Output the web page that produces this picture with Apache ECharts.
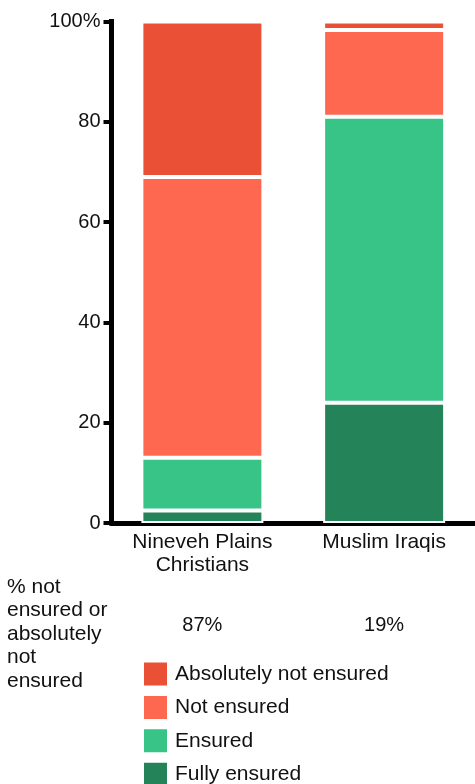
<!DOCTYPE html>
<html>
<head>
<meta charset="utf-8">
<script src="https://cdn.jsdelivr.net/npm/echarts@6/dist/echarts.min.js"></script>
<style>
html,body{margin:0;padding:0;background:#fff;}
#chart{width:475px;height:784px;}
</style>
</head>
<body>
<div id="chart"></div>
<script>
const categories = ['Nineveh Plains\nChristians', 'Muslim Iraqis'];
const fullyEnsured = [2.5, 24];
const ensured = [10.5, 57];
const notEnsured = [56, 17.3];
const absolutelyNotEnsured = [31, 1.7];
const yTicks = [0, 20, 40, 60, 80, 100];
const sideNote = '% not\nensured or\nabsolutely\nnot\nensured';

const FONT = '"Liberation Sans", Arial, Helvetica, sans-serif';
const colors = {
  abs: '#EA5036',
  not: '#FF6850',
  ens: '#37C486',
  full: '#25835A'
};

const chart = echarts.init(document.getElementById('chart'), null, {renderer: 'canvas'});

function seriesDef(name, data, color) {
  return {
    name: name,
    type: 'bar',
    stack: 'total',
    data: data,
    barWidth: 122,
    itemStyle: { color: color, borderColor: '#fff', borderWidth: 2 },
    emphasis: { disabled: true }
  };
}

const option = {
  animation: false,
  backgroundColor: '#fff',
  textStyle: { fontFamily: FONT },
  grid: { left: 111.5, top: 21.5, width: 366, height: 501.5, containLabel: false },
  xAxis: {
    type: 'category',
    data: categories,
    axisLine: { lineStyle: { color: '#000', width: 5 } },
    axisTick: { show: false },
    axisLabel: {
      interval: 0,
      color: '#111', fontSize: 21, lineHeight: 23.5, margin: 7, fontFamily: FONT
    }
  },
  yAxis: {
    type: 'value',
    min: 0, max: 100, interval: 20,
    splitLine: { show: false },
    axisLine: { show: true, lineStyle: { color: '#000', width: 5, cap: 'square' } },
    axisTick: { show: true, length: 8, lineStyle: { color: '#000', width: 4 } },
    axisLabel: {
      color: '#111', fontSize: 20, margin: 11, fontFamily: FONT,
      formatter: function (v) { return v === yTicks[yTicks.length - 1] ? v + '%' : String(v); }
    }
  },
  legend: {
    orient: 'vertical',
    left: 142, top: 660.5,
    width: 320, height: 200,
    padding: 0,
    itemWidth: 25, itemHeight: 25, itemGap: 6.4,
    icon: 'rect',
    selectedMode: false,
    data: ['Absolutely not ensured', 'Not ensured', 'Ensured', 'Fully ensured'],
    textStyle: { color: '#111', fontSize: 21, fontFamily: FONT, padding: [0, 0, 0, 2] }
  },
  series: [
    seriesDef('Fully ensured', fullyEnsured, colors.full),
    seriesDef('Ensured', ensured, colors.ens),
    seriesDef('Not ensured', notEnsured, colors.not),
    seriesDef('Absolutely not ensured', absolutelyNotEnsured, colors.abs)
  ]
};

chart.setOption(option);

const graphics = [{
  type: 'text',
  left: 7, top: 575,
  style: { text: sideNote, fill: '#111', fontSize: 21, lineHeight: 23.5, fontFamily: FONT }
}];
categories.forEach(function (c, i) {
  const px = chart.convertToPixel({ xAxisIndex: 0 }, i);
  const total = Math.round(notEnsured[i] + absolutelyNotEnsured[i]);
  graphics.push({
    type: 'text',
    x: px, y: 625,
    style: {
      text: total + '%', fill: '#111', fontSize: 20, fontFamily: FONT,
      textAlign: 'center', textVerticalAlign: 'middle'
    }
  });
});
chart.setOption({ graphic: graphics });
</script>
</body>
</html>
